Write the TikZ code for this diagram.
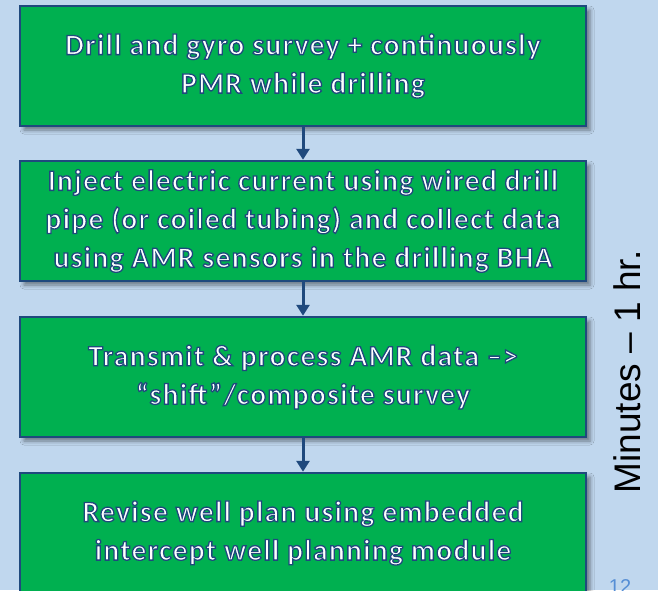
\documentclass[tikz,border=0pt]{standalone}
\usepackage{fontspec}
\setmainfont{Carlito}
\newfontfamily\boxfont[LetterSpace=4.5]{Carlito Bold}
\newfontfamily\arialfont{Liberation Sans}
\usetikzlibrary{arrows.meta,shadows.blur}
\definecolor{bgblue}{RGB}{192,215,238}
\definecolor{boxgreen}{RGB}{0,176,80}
\definecolor{edgeblue}{RGB}{31,73,125}
\definecolor{numblue}{RGB}{85,142,213}
\newcommand{\olt}[1]{\special{pdf:literal direct 2 Tr 1.3 w 0.122 0.286 0.490 RG}#1\special{pdf:literal direct 0 Tr}}
\tikzset{
  stepbox/.style={draw=edgeblue, line width=2.5pt, fill=boxgreen,
    minimum width=566pt, minimum height=120pt, inner sep=0pt,
    align=center, text=white, font=\boxfont\fontsize{29.5}{38.5}\selectfont,
    blur shadow={shadow xshift=4pt, shadow yshift=-4pt, shadow blur radius=4pt, shadow opacity=45}},
  flowarrow/.style={draw=edgeblue, line width=3pt, -{Triangle[width=13pt,length=11pt]}}
}
\begin{document}
\begin{tikzpicture}[x=1pt,y=-1pt]
\fill[bgblue] (0,0) rectangle (658,590);
\useasboundingbox (0,0) rectangle (658,590);
\node[stepbox] (b1) at (303,66) {\olt{Drill and gyro survey + continuously}\\\olt{PMR while drilling}};
\node[stepbox] (b2) at (303,221) {\olt{Inject electric current using wired drill}\\\olt{pipe (or coiled tubing) and collect data}\\\olt{using AMR sensors in the drilling BHA}};
\node[stepbox] (b3) at (303,377) {\olt{Transmit \& process AMR data –>}\\\olt{“shift”/composite survey}};
\node[stepbox] (b4) at (303,533) {\olt{Revise well plan using embedded}\\\olt{intercept well planning module}};
\draw[flowarrow] (b1.south) -- (b2.north);
\draw[flowarrow] (b2.south) -- (b3.north);
\draw[flowarrow] (b3.south) -- (b4.north);
\node[rotate=90, font=\arialfont\fontsize{37}{40}\selectfont, text=black, inner sep=0pt] (lbl) at (627,372) {Minutes – 1 hr.};
\node[anchor=base, font=\arialfont\fontsize{20}{22}\selectfont, text=numblue, inner sep=0pt] (pg) at (620,593) {12};
\end{tikzpicture}
\end{document}
